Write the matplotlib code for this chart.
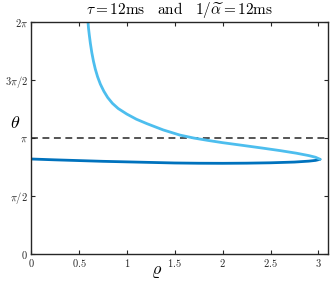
import numpy as np
import matplotlib
matplotlib.use("Agg")
import matplotlib.pyplot as plt

plt.rcParams["mathtext.fontset"] = "cm"
plt.rcParams["font.family"] = "serif"
plt.rcParams["font.serif"] = ["DejaVu Serif"]

# lower branch (dark blue)
rho_low = [0, 0.25, 0.5, 0.75, 1.0, 1.25, 1.5, 1.75, 2.0, 2.25, 2.5, 2.75, 2.9, 2.97, 3.017]
theta_low = [2.573, 2.55, 2.53, 2.51, 2.495, 2.48, 2.465, 2.458, 2.456, 2.46, 2.47, 2.49,
             2.515, 2.535, 2.565]

# upper branch (light blue)
rho_up = [0.595, 0.600, 0.609, 0.620, 0.635, 0.652, 0.671, 0.695, 0.724, 0.76, 0.80,
          0.85, 0.91, 1.0, 1.1, 1.21, 1.38, 1.555, 1.70, 1.85, 2.0, 2.2, 2.425, 2.6,
          2.77, 2.90, 2.97, 3.017]
theta_up = [6.283, 6.12, 5.92, 5.70, 5.45, 5.22, 5.01, 4.80, 4.60, 4.41, 4.24,
            4.08, 3.94, 3.79, 3.65, 3.53, 3.36, 3.22, 3.14, 3.075, 3.015, 2.945, 2.865,
            2.80, 2.73, 2.665, 2.62, 2.565]

xticks = [0, 0.5, 1, 1.5, 2, 2.5, 3]
xticklabels = ["0", "0.5", "1", "1.5", "2", "2.5", "3"]
yticks = [0, np.pi / 2, np.pi, 3 * np.pi / 2, 2 * np.pi]
yticklabels = [r"$0$", r"$\pi/2$", r"$\pi$", r"$3\pi/2$", r"$2\pi$"]

fig = plt.figure(figsize=(3.33, 2.84), dpi=100)
ax = fig.add_axes([31 / 333, 30 / 284, 297 / 333, 232 / 284])

ax.axhline(np.pi, color="#262626", ls=(0, (4.5, 3)), lw=1.1)
ax.plot(rho_low, theta_low, color="#0072BD", lw=2.0, solid_capstyle="round")
ax.plot(rho_up, theta_up, color="#4DBEEE", lw=2.0, solid_capstyle="round",
        solid_joinstyle="round")

ax.set_xlim(0, 3.1)
ax.set_ylim(0, 2 * np.pi)
ax.set_xticks(xticks)
ax.set_xticklabels([rf"${t}$" for t in xticklabels], fontsize=7.5)
ax.set_yticks(yticks)
ax.set_yticklabels(yticklabels, fontsize=7.5)
ax.tick_params(direction="in", top=True, right=True, length=3, width=0.8,
               color="#262626", labelcolor="#262626", pad=2)
for s in ax.spines.values():
    s.set_color("#262626")
    s.set_linewidth(1.0)

fig.text(157 / 333, 1 - 271 / 284, r"$\varrho$", fontsize=13, ha="center", va="center")
fig.text(15 / 333, 1 - 123 / 284, r"$\theta$", fontsize=13, ha="center", va="center")
fig.text(180 / 333, 1 - 10 / 284,
         r"$\tau = 12\mathrm{ms}\quad\mathrm{and}\quad 1/\widetilde{\alpha} = 12\mathrm{ms}$",
         fontsize=11, ha="center", va="center")

fig.savefig("out.png", dpi=100)
